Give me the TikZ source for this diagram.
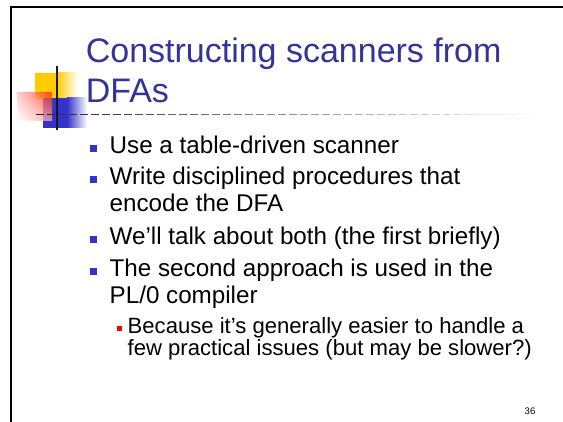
\documentclass[tikz,border=0pt]{standalone}
\usepackage{fontspec}
\setmainfont{Liberation Sans}
\usetikzlibrary{fadings,shadings}
\definecolor{titleblue}{RGB}{51,51,153}
\definecolor{bulblue}{RGB}{51,51,204}
\definecolor{decoyellow}{RGB}{255,204,0}
\definecolor{decored}{RGB}{255,40,0}
\definecolor{decoblue}{RGB}{51,51,204}
\definecolor{textcol}{RGB}{0,0,0}
\begin{document}
\begin{tikzpicture}[x=1pt,y=-1pt,
  titletext/.style={anchor=base west,inner sep=0pt,text=titleblue,font=\fontsize{34}{40}\selectfont},
  bodytext/.style={anchor=base west,inner sep=0pt,text=textcol,font=\fontsize{24.2}{27}\selectfont},
  subtext/.style={anchor=base west,inner sep=0pt,text=textcol,font=\fontsize{22.1}{21.5}\selectfont},
  bul/.style={fill=bulblue,draw=none,inner sep=0pt,minimum size=7pt},
  subbul/.style={fill=red,draw=none,inner sep=0pt,minimum size=5pt},
  pagenum/.style={anchor=base east,inner sep=0pt,font=\fontsize{9.5}{11}\selectfont}]
\useasboundingbox (0,0) rectangle (563,422);
\fill[white] (0,0) rectangle (563,422);
% frame
\draw[line width=2pt,black] (11,423) -- (11,7) -- (564,7);
% decoration: yellow square
\fill[decoyellow] (35,73) rectangle (57,99);
\shade[left color=decoyellow,right color=white] (57,73) rectangle (78,99);
% blue square
\fill[decoblue] (43,98) rectangle (67,128);
\shade[left color=decoblue,right color=white] (67,98) rectangle (87,128);
% red rectangle with fading
\shade[upper right=decored,upper left=red!25,lower right=red!35,lower left=white,fill opacity=0.75] (17,93) rectangle (52,121);
% dashed fading rule
\foreach \i in {0,...,45}{
  \pgfmathsetmacro\c{85*(1-\i/46)}
  \draw[black!\c,line width=1.6pt] (36+11*\i,114.5) -- ++(8,0);
}
% vertical line
\draw[line width=1.8pt,black!90] (57,66) -- (57,130);
% title
\node[titletext] (t1) at (85.6,62.7) {Constructing scanners from};
\node[titletext] (t2) at (85.6,103) {DFAs};
% bullets
\node[bul] (b1) at (93.5,148.5) {};
\node[bodytext] (l1) at (109.5,153.5) {Use a table-driven scanner};
\node[bul] (b2) at (93.5,180) {};
\node[bodytext] (l2a) at (109.5,185) {Write disciplined procedures that};
\node[bodytext] (l2b) at (109.5,212) {encode the DFA};
\node[bul] (b3) at (93.5,239.5) {};
\node[bodytext] (l3) at (109.5,244.5) {We’ll talk about both (the first briefly)};
\node[bul] (b4) at (93.5,272) {};
\node[bodytext] (l4a) at (109.5,277) {The second approach is used in the};
\node[bodytext] (l4b) at (109.5,304) {PL/0 compiler};
\node[subbul] (s1) at (119.5,329) {};
\node[subtext] (l5a) at (127.5,334) {Because it’s generally easier to handle a};
\node[subtext] (l5b) at (127.5,356) {few practical issues (but may be slower?)};
% page number
\node[pagenum] (pn) at (535.5,415) {36};
\end{tikzpicture}
\end{document}
